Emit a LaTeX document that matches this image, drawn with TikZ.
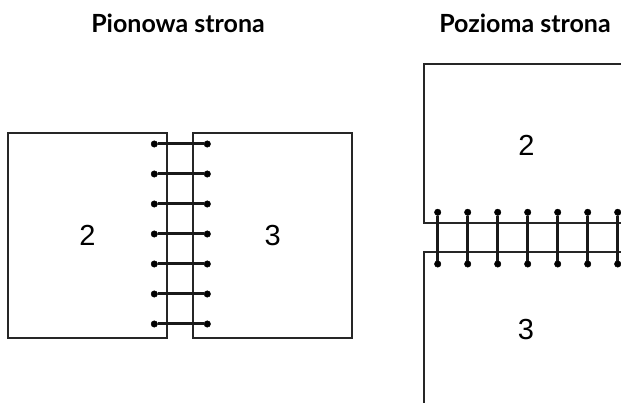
\documentclass[tikz,border=0pt]{standalone}
\usepackage{fontspec}
\setmainfont{Liberation Sans}
\newfontfamily\titlefont{Lato}
\usetikzlibrary{positioning}
\tikzset{
  page/.style={
    rectangle, draw=black!85, line width=2.3pt,
    inner sep=0pt, font=\fontsize{29}{29}\selectfont
  },
  pagenum/.style={inner sep=0pt, font=\fontsize{29}{29}\selectfont},
  title/.style={inner sep=0pt, font=\titlefont\bfseries\fontsize{25}{25}\selectfont},
  dot/.style={circle, fill=black, draw=black, inner sep=0pt, minimum size=6.5pt},
  rung/.style={draw=black!90, line width=3pt},
}
\begin{document}
\begin{tikzpicture}[x=1pt, y=1pt]
  \clip (0,0) rectangle (621,403);
  % Titles
  \node[title] (tportrait) at (178,380) {Pionowa strona};
  \node[title] (tlandscape) at (525,380) {Pozioma strona};

  % Portrait pages
  \node[page, minimum width=159pt, minimum height=205pt]
    (pleft) at (87.5,167.5) {2};
  \node[page, minimum width=159pt, minimum height=205pt]
    (pright) at (272.8,167.5) {3};

  % Landscape pages
  \node[page, minimum width=290pt, minimum height=159pt, anchor=south west]
    (ptop) at (422.7,179) {};
  \node[page, minimum width=290pt, minimum height=260pt, anchor=north west]
    (pbottom) at (422.7,152.3) {};
  \node[pagenum] (ntop) at (526.5,258) {2};
  \node[pagenum] (nbottom) at (526,73) {3};

  % Binding, portrait
  \foreach \i in {0,...,6} {
    \node[dot] (la\i) at (154.3,259-30*\i) {};
    \node[dot] (lb\i) at (207.3,259-30*\i) {};
    \draw[rung] (la\i) -- (lb\i);
  }
  % Binding, landscape
  \foreach \i in {0,...,6} {
    \node[dot] (ra\i) at (437.7+30*\i,190.7) {};
    \node[dot] (rb\i) at (437.7+30*\i,139) {};
    \draw[rung] (ra\i) -- (rb\i);
  }
\end{tikzpicture}
\end{document}
